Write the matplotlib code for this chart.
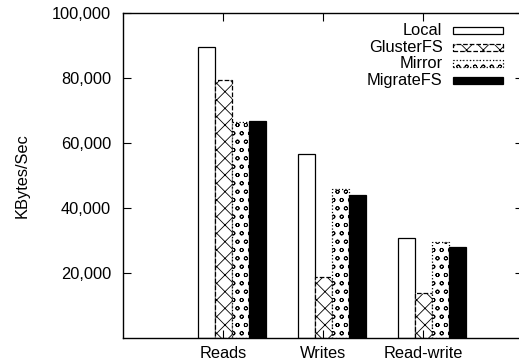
import numpy as np
import matplotlib
matplotlib.use('Agg')
import matplotlib.pyplot as plt
from matplotlib.patches import Rectangle

plt.rcParams['font.family'] = ['Liberation Sans', 'DejaVu Sans']
plt.rcParams['hatch.linewidth'] = 0.6

# Data
categories = ['Reads', 'Writes', 'Read-write']
series = ['Local', 'GlusterFS', 'Mirror', 'MigrateFS']
local = [89400, 56500, 30700]
gluster = [79300, 18600, 13800]
mirror = [66300, 45700, 29300]
migrate = [66700, 43900, 27800]
yticks = [20000, 40000, 60000, 80000, 100000]

values = [local, gluster, mirror, migrate]
faces = ['white', 'white', 'white', 'black']
hatches = [None, 'xx', 'oo', None]
edge_styles = ['-', '--', ':', '-']

fs = 11.8

fig = plt.figure(figsize=(5.19, 3.64), dpi=100)
ax = fig.add_axes([123 / 519, 1 - 337.5 / 364, 400 / 519, 324.5 / 364])

x = np.arange(len(categories))
width = 0.17
for i, vals in enumerate(values):
    ax.bar(x + (i - 1) * width, vals, width, color=faces[i], edgecolor='black',
           hatch=hatches[i], linestyle=edge_styles[i], linewidth=0.9)

ax.set_xlim(-1, 3)
ax.set_ylim(0, 100000)
ax.set_xticks(x)
ax.set_xticklabels(categories, fontsize=fs)
ax.set_yticks(yticks)
ax.set_yticklabels([f'{v:,}' for v in yticks], fontsize=fs)
ax.tick_params(direction='in', length=6, width=0.8, top=True, right=True, pad=6)
ax.tick_params(axis='y', pad=8.5)
for s in ax.spines.values():
    s.set_linewidth(1.0)
ax.set_ylabel('KBytes/Sec', fontsize=fs, labelpad=16)

# legend drawn in gnuplot style: text right aligned, sample box on the right
for i, name in enumerate(series):
    yc = 1 - (30.5 + i * 16.5 - 13) / 324.5
    ax.text((442.5 - 123) / 400, yc, name, transform=ax.transAxes, ha='right',
            va='center', fontsize=fs)
    ax.add_patch(Rectangle(((453 - 123) / 400, yc - 3.5 / 324.5), 50 / 400, 7 / 324.5,
                           transform=ax.transAxes, facecolor=faces[i],
                           edgecolor='black', hatch=hatches[i],
                           linestyle=edge_styles[i], linewidth=0.9))

fig.savefig('out.png', dpi=100)
